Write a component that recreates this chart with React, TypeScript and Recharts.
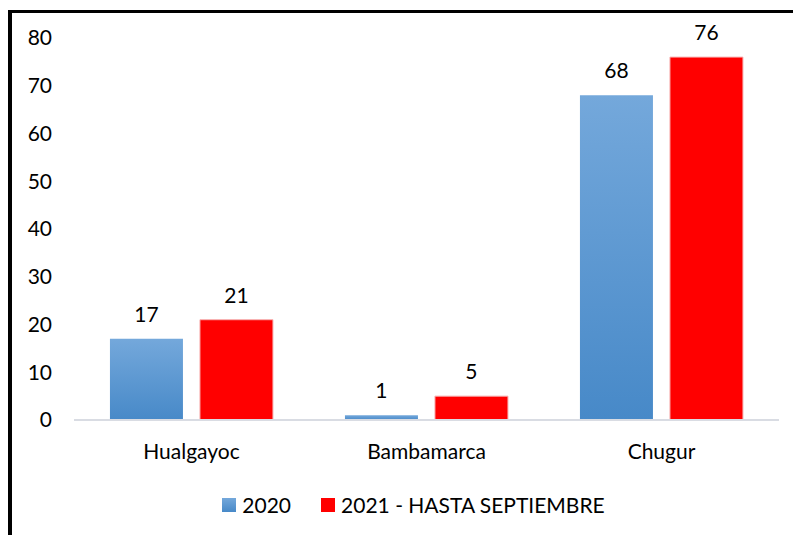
import React from "react";
import { BarChart, Bar, XAxis, YAxis, Legend, LabelList } from "recharts";

const categories = ["Hualgayoc", "Bambamarca", "Chugur"];
const values2020 = [17, 1, 68];
const values2021 = [21, 5, 76];
const yTicks = [0, 10, 20, 30, 40, 50, 60, 70, 80];

const data = categories.map((name, i) => ({
  name,
  y2020: values2020[i],
  y2021: values2021[i],
}));

const FONT = "Lato, 'Open Sans', sans-serif";

function LegendContent() {
  const items = [
    { label: "2020", fill: "url(#blue-fill)" },
    { label: "2021 - HASTA SEPTIEMBRE", fill: "#ff0000" },
  ];
  return (
    <div style={{ display: "flex", justifyContent: "center", fontFamily: FONT, fontSize: 21, color: "#000" }}>
      {items.map((it) => (
        <div key={it.label} style={{ display: "flex", alignItems: "center", margin: "0 15px" }}>
          <svg width={14} height={14} style={{ marginRight: 6 }}>
            <rect width={14} height={14} fill={it.fill} />
          </svg>
          <span>{it.label}</span>
        </div>
      ))}
    </div>
  );
}

export default function App() {
  return (
    <div style={{ position: "absolute", left: 0, top: 0, width: 793, height: 535, background: "#fff", overflow: "hidden" }}>
      <div
        style={{
          position: "absolute",
          left: 8,
          top: 10,
          width: 800,
          height: 540,
          borderTop: "3px solid #000",
          borderLeft: "4px solid #000",
        }}
      />
      <BarChart
        width={793}
        height={535}
        data={data}
        margin={{ top: 38, right: 14, left: 0, bottom: 50 }}
        barCategoryGap="15.3%"
        barGap={17}
        style={{ position: "absolute", left: 0, top: 0 }}
      >
        <defs>
          <linearGradient id="blue-fill" x1="0" y1="0" x2="0" y2="1">
            <stop offset="0%" stopColor="#74a8db" />
            <stop offset="100%" stopColor="#4789c8" />
          </linearGradient>
        </defs>
        <YAxis
          domain={[0, 80]}
          ticks={yTicks}
          width={74}
          axisLine={false}
          tickLine={false}
          tickSize={0}
          tickMargin={22}
          tick={{ fontSize: 21, fontFamily: FONT, fill: "#000" }}
        />
        <XAxis
          dataKey="name"
          height={40}
          tickLine={false}
          tickSize={0}
          tickMargin={24}
          axisLine={{ stroke: "#d9dce3", strokeWidth: 2 }}
          tick={{ fontSize: 21, fontFamily: FONT, fill: "#000" }}
        />
        <Legend
          verticalAlign="bottom"
          content={<LegendContent />}
          wrapperStyle={{ top: 492, left: 24 }}
        />
        <Bar dataKey="y2020" name="2020" fill="url(#blue-fill)" isAnimationActive={false}>
          <LabelList dataKey="y2020" position="top" offset={17} style={{ fontSize: 21, fontFamily: FONT, fill: "#000" }} />
        </Bar>
        <Bar dataKey="y2021" name="2021 - HASTA SEPTIEMBRE" fill="#ff0000" stroke="#f7b0b0" strokeWidth={1} isAnimationActive={false}>
          <LabelList dataKey="y2021" position="top" offset={17} style={{ fontSize: 21, fontFamily: FONT, fill: "#000" }} />
        </Bar>
      </BarChart>
    </div>
  );
}
